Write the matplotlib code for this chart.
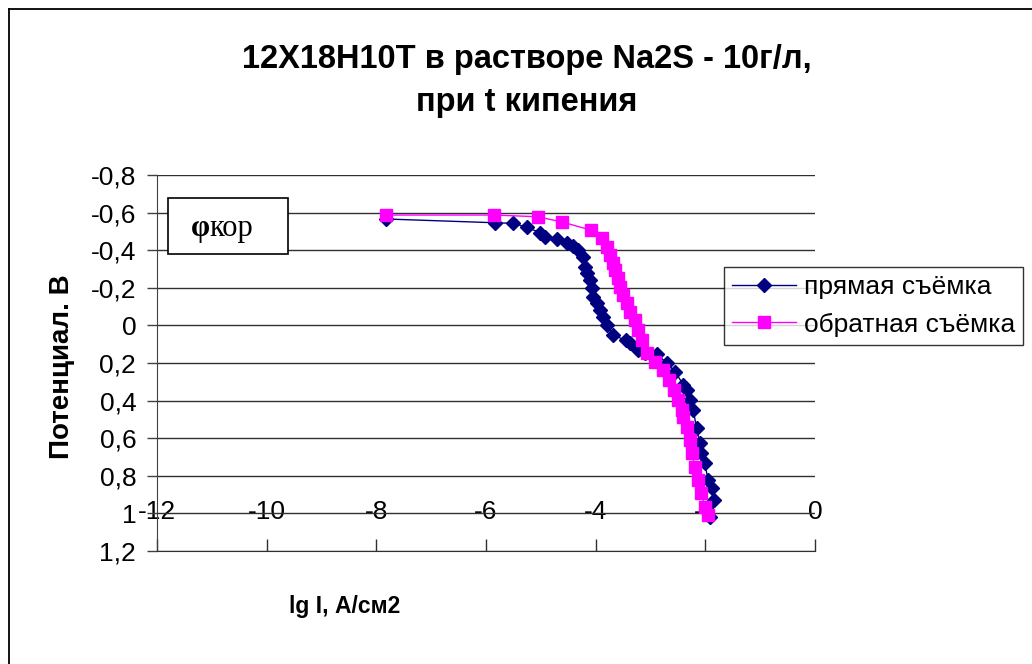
import matplotlib
matplotlib.use("Agg")
import matplotlib.pyplot as plt
from matplotlib.ticker import FuncFormatter
from matplotlib.lines import Line2D
from matplotlib.patches import Rectangle

plt.rcParams['font.family'] = ['Liberation Sans', 'DejaVu Sans']

title = "12Х18Н10Т в растворе Na2S - 10г/л,\nпри t кипения"
ylabel = "Потенциал. В"
xlabel = "lg I, А/см2"
series_names = ["прямая съёмка", "обратная съёмка"]
annot_sym = "φ"
annot_sub = "кор"

# прямая съёмка (forward scan)
x_fwd = [-7.82, -5.84, -5.50, -5.26, -5.01, -4.92, -4.71, -4.53, -4.41, -4.32,
         -4.23, -4.19, -4.16, -4.10, -4.07, -4.04, -3.98, -3.92, -3.86, -3.80,
         -3.68, -3.45, -3.37, -3.22, -3.10, -2.89, -2.70, -2.55, -2.40, -2.34,
         -2.28, -2.22, -2.16, -2.10, -2.07, -2.01, -1.95, -1.88, -1.85, -1.91]
y_fwd = [-0.566, -0.546, -0.543, -0.522, -0.493, -0.472, -0.458, -0.437, -0.420, -0.401,
         -0.365, -0.312, -0.277, -0.241, -0.197, -0.153, -0.118, -0.082, -0.046, -0.002,
         0.051, 0.080, 0.095, 0.131, 0.148, 0.150, 0.202, 0.246, 0.317, 0.344,
         0.397, 0.450, 0.547, 0.627, 0.680, 0.734, 0.822, 0.867, 0.929, 1.018]

# обратная съёмка (reverse scan)
x_rev = [-7.82, -5.85, -5.06, -4.61, -4.09, -3.89, -3.80, -3.74, -3.68, -3.65,
         -3.59, -3.56, -3.50, -3.43, -3.37, -3.28, -3.22, -3.16, -3.07, -2.92,
         -2.77, -2.67, -2.58, -2.49, -2.43, -2.40, -2.34, -2.28, -2.25, -2.19,
         -2.13, -2.07, -2.01, -1.95]
y_rev = [-0.587, -0.587, -0.578, -0.550, -0.507, -0.463, -0.419, -0.374, -0.330, -0.295,
         -0.251, -0.206, -0.162, -0.118, -0.073, -0.029, 0.024, 0.078, 0.148, 0.193,
         0.237, 0.290, 0.344, 0.397, 0.450, 0.486, 0.539, 0.610, 0.680, 0.752,
         0.822, 0.893, 0.964, 1.008]

xticks = [-12, -10, -8, -6, -4, -2, 0]
yticks = [-0.8, -0.6, -0.4, -0.2, 0, 0.2, 0.4, 0.6, 0.8, 1.0, 1.2]

fig = plt.figure(figsize=(10.32, 6.64), dpi=100)
ax = fig.add_axes([157/1032, 1-551/664, (815-157)/1032, (551-175)/664])

ax.plot(x_fwd, y_fwd, color='#000080', lw=1.0, marker='D', ms=7.5,
        mfc='#000080', mec='#000080', zorder=3)
ax.plot(x_rev, y_rev, color='#FF00FF', lw=1.0, marker='s', ms=9,
        mfc='#FF00FF', mec='#FF00FF', zorder=4)

ax.set_xlim(-12, 0)
ax.set_ylim(1.2, -0.8)
ax.set_yticks(yticks)
ax.set_xticks(xticks)

def fmt(v, pos):
    if abs(v) < 1e-9:
        return "0"
    return f"{v:g}".replace('.', ',')

ax.yaxis.set_major_formatter(FuncFormatter(fmt))
ax.xaxis.set_major_formatter(FuncFormatter(fmt))

ax.grid(axis='y', color='#303030', lw=1.0)
ax.set_axisbelow(True)
for s in ['top', 'right']:
    ax.spines[s].set_visible(False)
ax.spines['left'].set_color('#404040')
ax.spines['bottom'].set_color('#303030')
ax.tick_params(axis='y', direction='out', length=7, width=1, pad=8,
               labelsize=19, color='#404040')
ax.tick_params(axis='x', direction='in', length=9, width=1, pad=-37,
               labelsize=19, color='#303030')

fig.text(527/1032, 1-81/664, title, ha='center', va='center',
         fontsize=23.5, fontweight='bold', linespacing=1.5)
fig.text(62/1032, 1-367/664, ylabel, ha='center', va='center', rotation=90,
         fontsize=20, fontweight='bold')
fig.text(345/1032, 1-606/664, xlabel, ha='center', va='center',
         fontsize=16.5, fontweight='bold')

# φкор box
ax.add_patch(Rectangle((168/1032, 1-254/664), 120/1032, 56/664,
                       transform=fig.transFigure, fc='white', ec='black',
                       lw=1.2, zorder=5))
serif = ['Liberation Serif', 'DejaVu Serif']
fig.text(209.5/1032, 1-236/664, annot_sym, ha='right', va='baseline',
         fontsize=22, fontweight='bold', family=serif, zorder=6)
fig.text(209.5/1032, 1-236/664, annot_sub, ha='left', va='baseline',
         fontsize=22, family=serif, zorder=6)

handles = [Line2D([], [], color='#000080', lw=1.0, marker='D', ms=7.5),
           Line2D([], [], color='#FF00FF', lw=1.0, marker='s', ms=9)]
leg = fig.legend(handles, series_names, loc='center',
                 bbox_to_anchor=(873.5/1032, 1-306/664), fontsize=19,
                 frameon=True, fancybox=False, edgecolor='black',
                 handlelength=2.4, handletextpad=0.3, borderpad=0.3,
                 labelspacing=0.5, borderaxespad=0)
leg.get_frame().set_linewidth(1.0)

# outer chart border (left & top visible)
fig.add_artist(Line2D([8.5/1032, 8.5/1032], [0, 1-9/664], color='black', lw=1.3,
                      transform=fig.transFigure))
fig.add_artist(Line2D([8.5/1032, 1], [1-9/664, 1-9/664], color='black', lw=1.3,
                      transform=fig.transFigure))

fig.savefig('out.png', dpi=100)
